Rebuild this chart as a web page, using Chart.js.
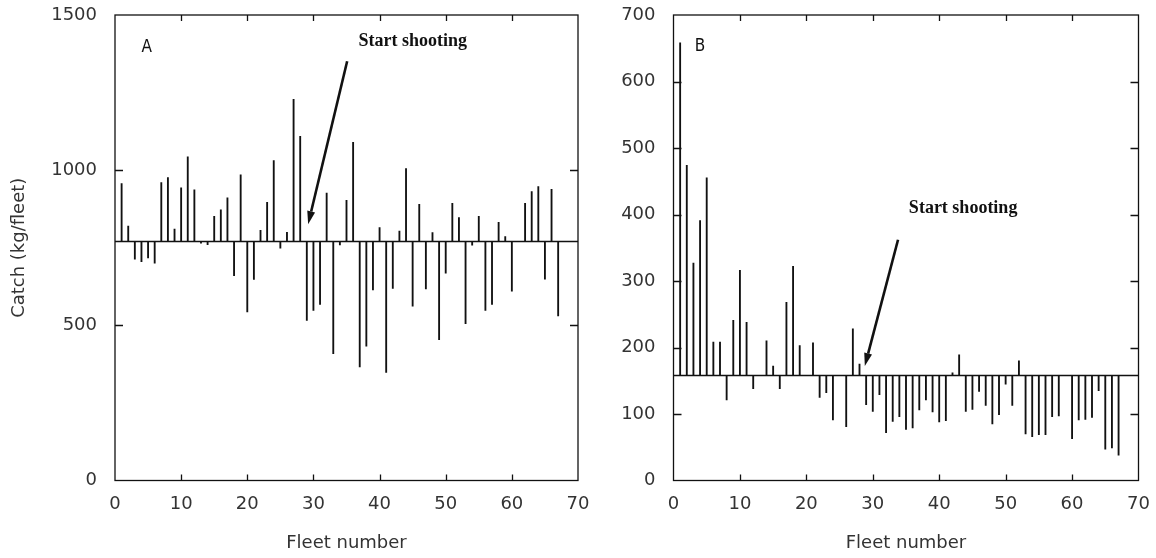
<!DOCTYPE html>
<html>
<head>
<meta charset="utf-8">
<script src="https://cdn.jsdelivr.net/npm/chart.js@4.4.1/dist/chart.umd.min.js"></script>
<style>
  html, body { margin: 0; padding: 0; background: #fff; }
  body { width: 1156px; height: 558px; position: relative; overflow: hidden; }
  canvas { position: absolute; top: -40px; }
  #cA { left: 0; }
  #cB { left: 580px; }
</style>
</head>
<body>
<canvas id="cA" width="640" height="598"></canvas>
<canvas id="cB" width="620" height="598"></canvas>
<script>
// ---------------- DATA ----------------
const fleets = [1,2,3,4,5,6,7,8,9,10,11,12,13,14,15,16,17,18,19,20,21,22,23,24,25,26,27,28,29,30,
  31,32,33,34,35,36,37,38,39,40,41,42,43,44,45,46,47,48,49,50,51,52,53,54,55,56,57,58,59,60,
  61,62,63,64,65,66,67];

// Panel A: catch (kg/fleet) per fleet, plotted relative to the mean line
const catchA = [957,820,713,705,717,700,960,976,810,943,1043,937,765,760,851,872,911,660,985,543,
  648,806,896,1031,749,800,1228,1109,516,548,567,926,409,759,903,1090,366,433,614,815,
  348,619,804,1005,562,890,617,799,454,668,893,847,505,758,851,548,567,832,786,610,
  null,893,931,947,649,938,530];
const baseA = 770;

// Panel B
const catchB = [658,474,327,391,455,208,208,121,241,316,238,138,null,210,172,138,268,322,203,null,
  207,125,132,91,null,81,228,175,114,104,129,72,89,96,77,79,106,121,103,88,
  90,162,189,104,107,134,113,85,99,145,113,180,70,66,69,69,96,97,null,63,
  91,92,95,135,47,49,38];
const baseB = 158;

const xTicks = [0,10,20,30,40,50,60,70];
const yTicksA = [0,500,1000,1500];
const yTicksB = [0,100,200,300,400,500,600,700];
const panelLabels = ['A','B'];
const noteText = 'Start shooting';
const xTitle = 'Fleet number';
const yTitle = 'Catch (kg/fleet)';

// ---------------- RENDER ----------------
const FONT = '"DejaVu Sans", "Liberation Sans", sans-serif';
const INK = '#111';
const TXT = '#333';
const FS = 18;

const framePlugin = {
  id: 'frame',
  afterDatasetsDraw(chart, args, o) {
    const {ctx, chartArea: a, scales: {x, y}} = chart;
    ctx.save();
    ctx.strokeStyle = INK;
    ctx.lineWidth = 1.3;
    ctx.strokeRect(a.left, a.top, a.right - a.left, a.bottom - a.top);
    ctx.beginPath();
    x.ticks.forEach(t => {
      if (t.value <= x.min || t.value >= x.max) return;
      const px = Math.round(x.getPixelForValue(t.value)) + 0.5;
      ctx.moveTo(px, a.bottom); ctx.lineTo(px, a.bottom - 6);
      ctx.moveTo(px, a.top); ctx.lineTo(px, a.top + 6);
    });
    y.ticks.forEach(t => {
      if (t.value <= y.min || t.value >= y.max) return;
      const py = Math.round(y.getPixelForValue(t.value)) + 0.5;
      ctx.moveTo(a.left, py); ctx.lineTo(a.left + 8, py);
      ctx.moveTo(a.right, py); ctx.lineTo(a.right - 8, py);
    });
    ctx.stroke();

    // panel letter
    ctx.fillStyle = INK;
    ctx.font = '17px "DejaVu Sans Condensed", ' + FONT;
    ctx.textAlign = 'center';
    ctx.textBaseline = 'middle';
    ctx.fillText(o.label, x.getPixelForValue(o.labelAt[0]), y.getPixelForValue(o.labelAt[1]));

    // note text
    ctx.font = 'bold 18px "Liberation Serif", "Times New Roman", serif';
    ctx.fillText(noteText, x.getPixelForValue(o.textAt[0]), y.getPixelForValue(o.textAt[1]));

    // arrow
    const x1 = x.getPixelForValue(o.arrowFrom[0]), y1 = y.getPixelForValue(o.arrowFrom[1]);
    const x2 = x.getPixelForValue(o.arrowTo[0]), y2 = y.getPixelForValue(o.arrowTo[1]);
    const ang = Math.atan2(y2 - y1, x2 - x1);
    const hl = 13, hw = 4;
    const bx = x2 - hl * Math.cos(ang), by = y2 - hl * Math.sin(ang);
    ctx.lineWidth = 2.6;
    ctx.beginPath();
    ctx.moveTo(x1, y1); ctx.lineTo(bx, by); ctx.stroke();
    ctx.beginPath();
    ctx.moveTo(x2, y2);
    ctx.lineTo(bx + hw * Math.sin(ang), by - hw * Math.cos(ang));
    ctx.lineTo(bx - hw * Math.sin(ang), by + hw * Math.cos(ang));
    ctx.closePath();
    ctx.fill();
    ctx.restore();
  }
};

function makeChart(id, values, base, yMax, yTicks, yWidth, pad, ann, showYTitle) {
  const barData = fleets.map((f, i) => ({x: f, y: values[i]}));
  const lineData = [{x: xTicks[0], y: base}, {x: xTicks[xTicks.length - 1], y: base}];
  return new Chart(document.getElementById(id), {
    type: 'bar',
    data: {
      datasets: [
        { type: 'bar', data: barData, base: base, backgroundColor: INK, borderWidth: 0,
          barThickness: 1.2, order: 2 },
        { type: 'line', data: lineData, borderColor: INK, borderWidth: 1.6, pointRadius: 0,
          fill: false, order: 1 }
      ]
    },
    options: {
      responsive: false,
      animation: false,
      devicePixelRatio: 1,
      layout: { padding: pad },
      plugins: { legend: { display: false }, tooltip: { enabled: false }, frame: ann },
      scales: {
        x: {
          type: 'linear', min: 0, max: 70, offset: false,
          afterBuildTicks: s => { s.ticks = xTicks.map(v => ({value: v})); },
          afterFit: s => { s.height = 77.5; },
          grid: { display: false, drawTicks: false },
          border: { display: false },
          ticks: { padding: 13, color: TXT, font: { family: FONT, size: FS }, maxRotation: 0,
                   callback: v => String(v) },
          title: { display: true, text: xTitle, color: TXT, font: { family: FONT, size: FS },
                   padding: { top: 0, bottom: 4 } }
        },
        y: {
          type: 'linear', min: 0, max: yMax,
          afterBuildTicks: s => { s.ticks = yTicks.map(v => ({value: v})); },
          afterFit: s => { s.width = yWidth; },
          grid: { display: false, drawTicks: false },
          border: { display: false },
          ticks: { padding: 18, color: TXT, font: { family: FONT, size: FS },
                   callback: v => String(v) },
          title: { display: showYTitle, text: yTitle, color: TXT, font: { family: FONT, size: FS },
                   padding: { top: 9, bottom: 0 } }
        }
      }
    },
    plugins: [framePlugin]
  });
}

makeChart('cA', catchA, baseA, 1500, yTicksA, 115, {left: 0, right: 62, top: 55, bottom: 0},
  { label: panelLabels[0], labelAt: [4.8, 1395], textAt: [45, 1415],
    arrowFrom: [35.1, 1351], arrowTo: [29.2, 826] }, true);

makeChart('cB', catchB, baseB, 700, yTicksB, 93.5, {left: 0, right: 61.5, top: 55, bottom: 0},
  { label: panelLabels[1], labelAt: [4.0, 653], textAt: [43.6, 410],
    arrowFrom: [33.8, 362], arrowTo: [28.8, 172] }, false);
</script>
</body>
</html>
